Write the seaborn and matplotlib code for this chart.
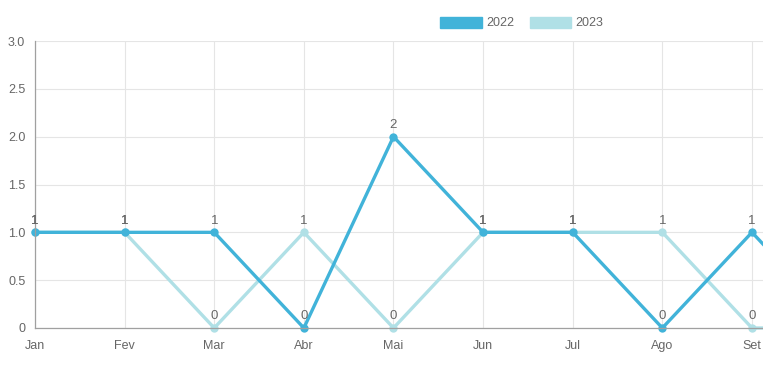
import numpy as np
import pandas as pd
import matplotlib.pyplot as plt
import seaborn as sns
from matplotlib.patches import Patch

months = ["Jan", "Fev", "Mar", "Abr", "Mai", "Jun", "Jul", "Ago", "Set", "Out"]
vals_2022 = [1, 1, 1, 0, 2, 1, 1, 0, 1, 0]
vals_2023 = [1, 1, 0, 1, 0, 1, 1, 1, 0, 0]
series = ["2022", "2023"]
colors = {"2022": "#41b3d9", "2023": "#b0e0e6"}

df = pd.concat([
    pd.DataFrame({"mes": months, "idx": range(len(months)), "valor": vals_2023, "ano": "2023"}),
    pd.DataFrame({"mes": months, "idx": range(len(months)), "valor": vals_2022, "ano": "2022"}),
])

sns.set_style("white")
plt.rcParams['font.family'] = ['Liberation Sans', 'DejaVu Sans']

fig = plt.figure(figsize=(7.63, 3.66), dpi=100)
ax = fig.add_axes([35/763, 38/366, 1 - 35/763, (328-41)/366])

sns.lineplot(data=df, x="idx", y="valor", hue="ano", hue_order=["2023", "2022"],
             palette=colors, marker="o", markersize=6, markeredgewidth=0,
             linewidth=2.4, sort=False, legend=False, ax=ax, clip_on=False)

# value labels above points
for ano, vals in [("2023", vals_2023), ("2022", vals_2022)]:
    for i, v in enumerate(vals):
        ax.annotate(str(v), (i, v), xytext=(0, 4), textcoords="offset points",
                    ha="center", va="bottom", color="#666666", fontsize=9.5,
                    annotation_clip=True)

ax.set_xticks(range(len(months)))
ax.set_xticklabels(months)
ax.set_yticks(np.arange(0, 3.01, 0.5))
ax.set_yticklabels(["0", "0.5", "1.0", "1.5", "2.0", "2.5", "3.0"])
ax.set_xlim(0, 8.123)
ax.set_ylim(0, 3)
ax.set_xlabel("")
ax.set_ylabel("")
ax.grid(True, color="#e5e5e5", linewidth=0.8)
ax.set_axisbelow(True)
ax.tick_params(axis="both", colors="#666666", labelsize=9, length=5, width=0.8,
               direction="out", pad=2)
ax.tick_params(axis="x", pad=3.5)
ax.tick_params(axis="both", color="#e5e5e5")
for s in ["top", "right"]:
    ax.spines[s].set_visible(False)
for s in ["left", "bottom"]:
    ax.spines[s].set_color("#a0a0a0")
    ax.spines[s].set_linewidth(0.9)

handles = [Patch(facecolor=colors[s], edgecolor=colors[s], label=s) for s in series]
fig.legend(handles=handles, loc="center", bbox_to_anchor=(522/763, 1 - 23/366),
           ncol=2, frameon=False, handlelength=3.3, handleheight=1.0,
           handletextpad=0.4, columnspacing=1.2, fontsize=9, labelcolor="#666666")

plt.savefig("out.png", dpi=100)
